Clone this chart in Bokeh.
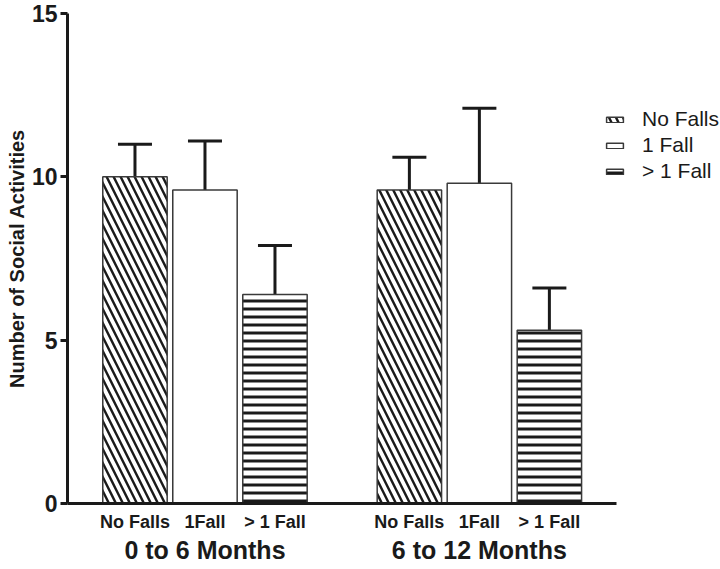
from bokeh.plotting import figure
from bokeh.models import (Range1d, FixedTicker, ColumnDataSource, LinearAxis,
                          Whisker, TeeHead, Legend, LegendItem, Title)
from bokeh.embed import file_html
from bokeh.resources import INLINE

# ---- data ----
periods = ["0 to 6 Months", "6 to 12 Months"]
fall_ticks = ["No Falls", "1Fall", "> 1 Fall"]
fall_legend = ["No Falls", "1 Fall", "> 1 Fall"]
means_no_falls = [10.0, 9.6]
means_one_fall = [9.6, 9.8]
means_multi_fall = [6.4, 5.3]
err_no_falls = [1.0, 1.0]
err_one_fall = [1.5, 2.3]
err_multi_fall = [1.5, 1.3]
y_ticks = [0, 5, 10, 15]
y_title = "Number of Social Activities"

FONT = "Liberation Sans"
INK = "#1a1a1a"

# layout of the category axis (units = one bar slot)
GROUP_STEP = 3.92
BAR_W = 0.92
PAD = 0.964


def pos(g, k):
    return round(g * GROUP_STEP + k, 3)


x_start = -PAD
x_axis_end = pos(len(periods) - 1, len(fall_ticks) - 1) + PAD
x_end = x_start + (720 - 67) / 70.0

p = figure(width=720, height=569, output_backend="svg", toolbar_location=None,
           x_range=Range1d(x_start, x_end), y_range=Range1d(0, 15),
           min_border_left=67, min_border_top=13, min_border_bottom=66,
           min_border_right=0)
p.outline_line_color = None
p.grid.grid_line_color = None
p.xaxis.visible = False

series = [
    (means_no_falls, err_no_falls, "\\", 14, 2.4),
    (means_one_fall, err_one_fall, None, 0, 0),
    (means_multi_fall, err_multi_fall, "-", 8, 3.0),
]
items = []
for k, (means, errs, hatch, hscale, hweight) in enumerate(series):
    src = ColumnDataSource(dict(
        x=[pos(g, k) for g in range(len(periods))],
        top=means,
        upper=[m + e for m, e in zip(means, errs)],
    ))
    kw = dict(hatch_pattern=hatch, hatch_color=INK, hatch_weight=hweight,
              hatch_scale=hscale) if hatch else {}
    r = p.vbar(x="x", top="top", width=BAR_W, source=src, fill_color="white",
               line_color="#3a3a3a", line_width=1.5, **kw)
    w = Whisker(base="x", lower="top", upper="upper", source=src,
                line_color=INK, line_width=3,
                upper_head=TeeHead(size=34, line_color=INK, line_width=3),
                lower_head=None)
    p.add_layout(w)
    items.append(LegendItem(label=fall_legend[k], renderers=[r]))

legend = Legend(items=items, location=(537, 319), orientation="vertical",
                border_line_color=None, background_fill_alpha=0,
                padding=0, margin=0, spacing=0, glyph_width=21, glyph_height=7,
                label_height=26, label_standoff=17,
                label_text_font=FONT, label_text_font_size="21px",
                label_text_color=INK)
p.add_layout(legend)

# y axis
ya = p.yaxis[0]
ya.ticker = FixedTicker(ticks=y_ticks)
ya.minor_tick_line_color = None
ya.major_tick_out = 7
ya.major_tick_in = 0
ya.major_tick_line_width = 3
ya.major_tick_line_color = INK
ya.axis_line_width = 3
ya.axis_line_color = INK
ya.major_label_standoff = 3
ya.major_label_text_font = FONT
ya.major_label_text_font_size = "23px"
ya.major_label_text_font_style = "bold"
ya.major_label_text_color = INK

p.add_layout(Title(text=y_title, align="center", offset=10, standoff=2,
                   text_font=FONT, text_font_size="20px",
                   text_font_style="bold", text_color=INK), "left")

# x axis: category labels under each bar
cat_pos = [pos(g, k) for g in range(len(periods)) for k in range(len(fall_ticks))]
cat_lab = [fall_ticks[k] for g in range(len(periods)) for k in range(len(fall_ticks))]
xa = LinearAxis(ticker=FixedTicker(ticks=cat_pos),
                major_label_overrides={v: s for v, s in zip(cat_pos, cat_lab)},
                bounds=(x_start, x_axis_end))
xa.axis_line_width = 3
xa.axis_line_color = INK
xa.major_tick_line_color = None
xa.major_tick_out = 0
xa.major_tick_in = 0
xa.minor_tick_line_color = None
xa.major_label_standoff = 8
xa.major_label_text_font = FONT
xa.major_label_text_font_size = "18px"
xa.major_label_text_font_style = "bold"
xa.major_label_text_color = INK
p.add_layout(xa, "below")

# x axis: period labels under each group
grp_pos = [pos(g, 1) for g in range(len(periods))]
ga = LinearAxis(ticker=FixedTicker(ticks=grp_pos),
                major_label_overrides={v: s for v, s in zip(grp_pos, periods)})
ga.axis_line_color = None
ga.major_tick_line_color = None
ga.major_tick_out = 0
ga.major_tick_in = 0
ga.minor_tick_line_color = None
ga.major_label_standoff = 1
ga.major_label_text_font = FONT
ga.major_label_text_font_size = "25px"
ga.major_label_text_font_style = "bold"
ga.major_label_text_color = INK
p.add_layout(ga, "below")

open("out.html", "w").write(file_html(p, INLINE))
